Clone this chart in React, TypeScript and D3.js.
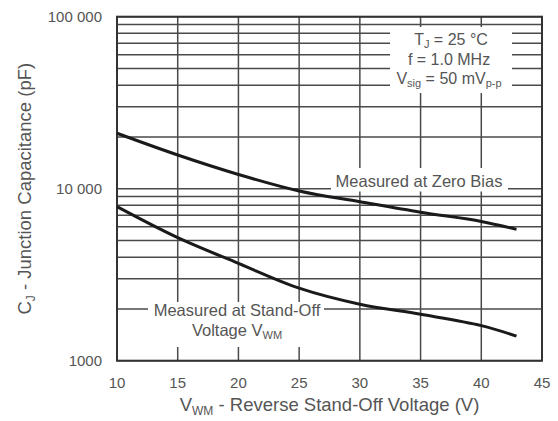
import React from "react";
import * as d3 from "d3";

const W = 558;
const H = 421;

const voltages = [10, 15, 20, 25, 30, 35, 40, 42.9];
const zeroBias = [21000, 15700, 12100, 9700, 8400, 7300, 6450, 5800];
const standOff = [7860, 5190, 3680, 2640, 2130, 1860, 1600, 1390];

const xTicks = [10, 15, 20, 25, 30, 35, 40, 45];
const yTicks = [1000, 10000, 100000];
const yTickLabels = ["1000", "10 000", "100 000"];

const margin = { left: 117, right: 16, top: 16.7, bottom: 60.3 };

export default function App() {
  const x = d3.scaleLinear().domain([10, 45]).range([margin.left, W - margin.right]);
  const y = d3.scaleLog().domain([1000, 100000]).range([H - margin.bottom, margin.top]);

  const minor: number[] = [];
  for (const dec of [1000, 10000]) {
    for (let k = 1; k <= 9; k++) minor.push(dec * k);
  }
  minor.push(100000);

  const line = d3
    .line<[number, number]>()
    .x((d) => x(d[0]))
    .y((d) => y(d[1]))
    .curve(d3.curveCatmullRom.alpha(0.5));

  const zPts = voltages.map((v, i) => [v, zeroBias[i]] as [number, number]);
  const sPts = voltages.map((v, i) => [v, standOff[i]] as [number, number]);

  const x0 = x(10), x1 = x(45), y0 = y(1000), y1 = y(100000);
  const grid = "#4a4a4a";
  const txt = "#555";
  const font = "'Liberation Sans', Arial, sans-serif";

  return (
    <svg width={W} height={H} style={{ position: "absolute", left: 0, top: 0, background: "#fff" }} fontFamily={font}>
      {minor.map((v) => (
        <line key={"h" + v} x1={x0} x2={x1} y1={y(v)} y2={y(v)} stroke={grid} strokeWidth={1.5} />
      ))}
      {xTicks.map((v) => (
        <line key={"v" + v} x1={x(v)} x2={x(v)} y1={y0} y2={y1} stroke={grid} strokeWidth={1.5} />
      ))}
      <rect x={390} y={27} width={122} height={66} fill="#fff" />
      <rect x={331} y={168} width={177} height={23.5} fill="#fff" />
      <rect x={148} y={302} width={176} height={45} fill="#fff" />
      <rect x={x0} y={y1} width={x1 - x0} height={y0 - y1} fill="none" stroke="#333" strokeWidth={2} />
      <path d={line(zPts) || ""} fill="none" stroke="#1a1a1a" strokeWidth={3} />
      <path d={line(sPts) || ""} fill="none" stroke="#1a1a1a" strokeWidth={3} />
      {yTicks.map((v, i) => (
        <text key={"yt" + v} x={102} y={y(v)} textAnchor="end" dominantBaseline="central" fontSize={15} fill={txt}>
          {yTickLabels[i]}
        </text>
      ))}
      {xTicks.map((v) => (
        <text key={"xt" + v} x={x(v)} y={382} textAnchor="middle" dominantBaseline="central" fontSize={15} fill={txt}>
          {v}
        </text>
      ))}
      <text x={(x0 + x1) / 2} y={411} textAnchor="middle" fontSize={18.5} fill={txt}>
        V<tspan fontSize={12} dy={4}>WM</tspan>
        <tspan dy={-4}> - Reverse Stand-Off Voltage (V)</tspan>
      </text>
      <text transform={`translate(31,${(y0 + y1) / 2}) rotate(-90)`} textAnchor="middle" fontSize={18.5} fill={txt}>
        C<tspan fontSize={12} dy={4}>J</tspan>
        <tspan dy={-4}> - Junction Capacitance (pF)</tspan>
      </text>
      <text x={451} y={45} textAnchor="middle" fontSize={16} fill={txt}>
        T<tspan fontSize={11} dy={3}>J</tspan>
        <tspan dy={-3}> = 25 °C</tspan>
      </text>
      <text x={449} y={65} textAnchor="middle" fontSize={16} fill={txt}>
        f = 1.0 MHz
      </text>
      <text x={449} y={84} textAnchor="middle" fontSize={16} fill={txt}>
        V<tspan fontSize={11} dy={3}>sig</tspan>
        <tspan dy={-3}> = 50 mV</tspan>
        <tspan fontSize={11} dy={3}>p-p</tspan>
      </text>
      <text x={419} y={187} textAnchor="middle" fontSize={16.5} fill={txt}>
        Measured at Zero Bias
      </text>
      <text x={237} y={316} textAnchor="middle" fontSize={16.5} fill={txt}>
        Measured at Stand-Off
      </text>
      <text x={237} y={336} textAnchor="middle" fontSize={16.5} fill={txt}>
        Voltage V<tspan fontSize={11} dy={3}>WM</tspan>
      </text>
    </svg>
  );
}
